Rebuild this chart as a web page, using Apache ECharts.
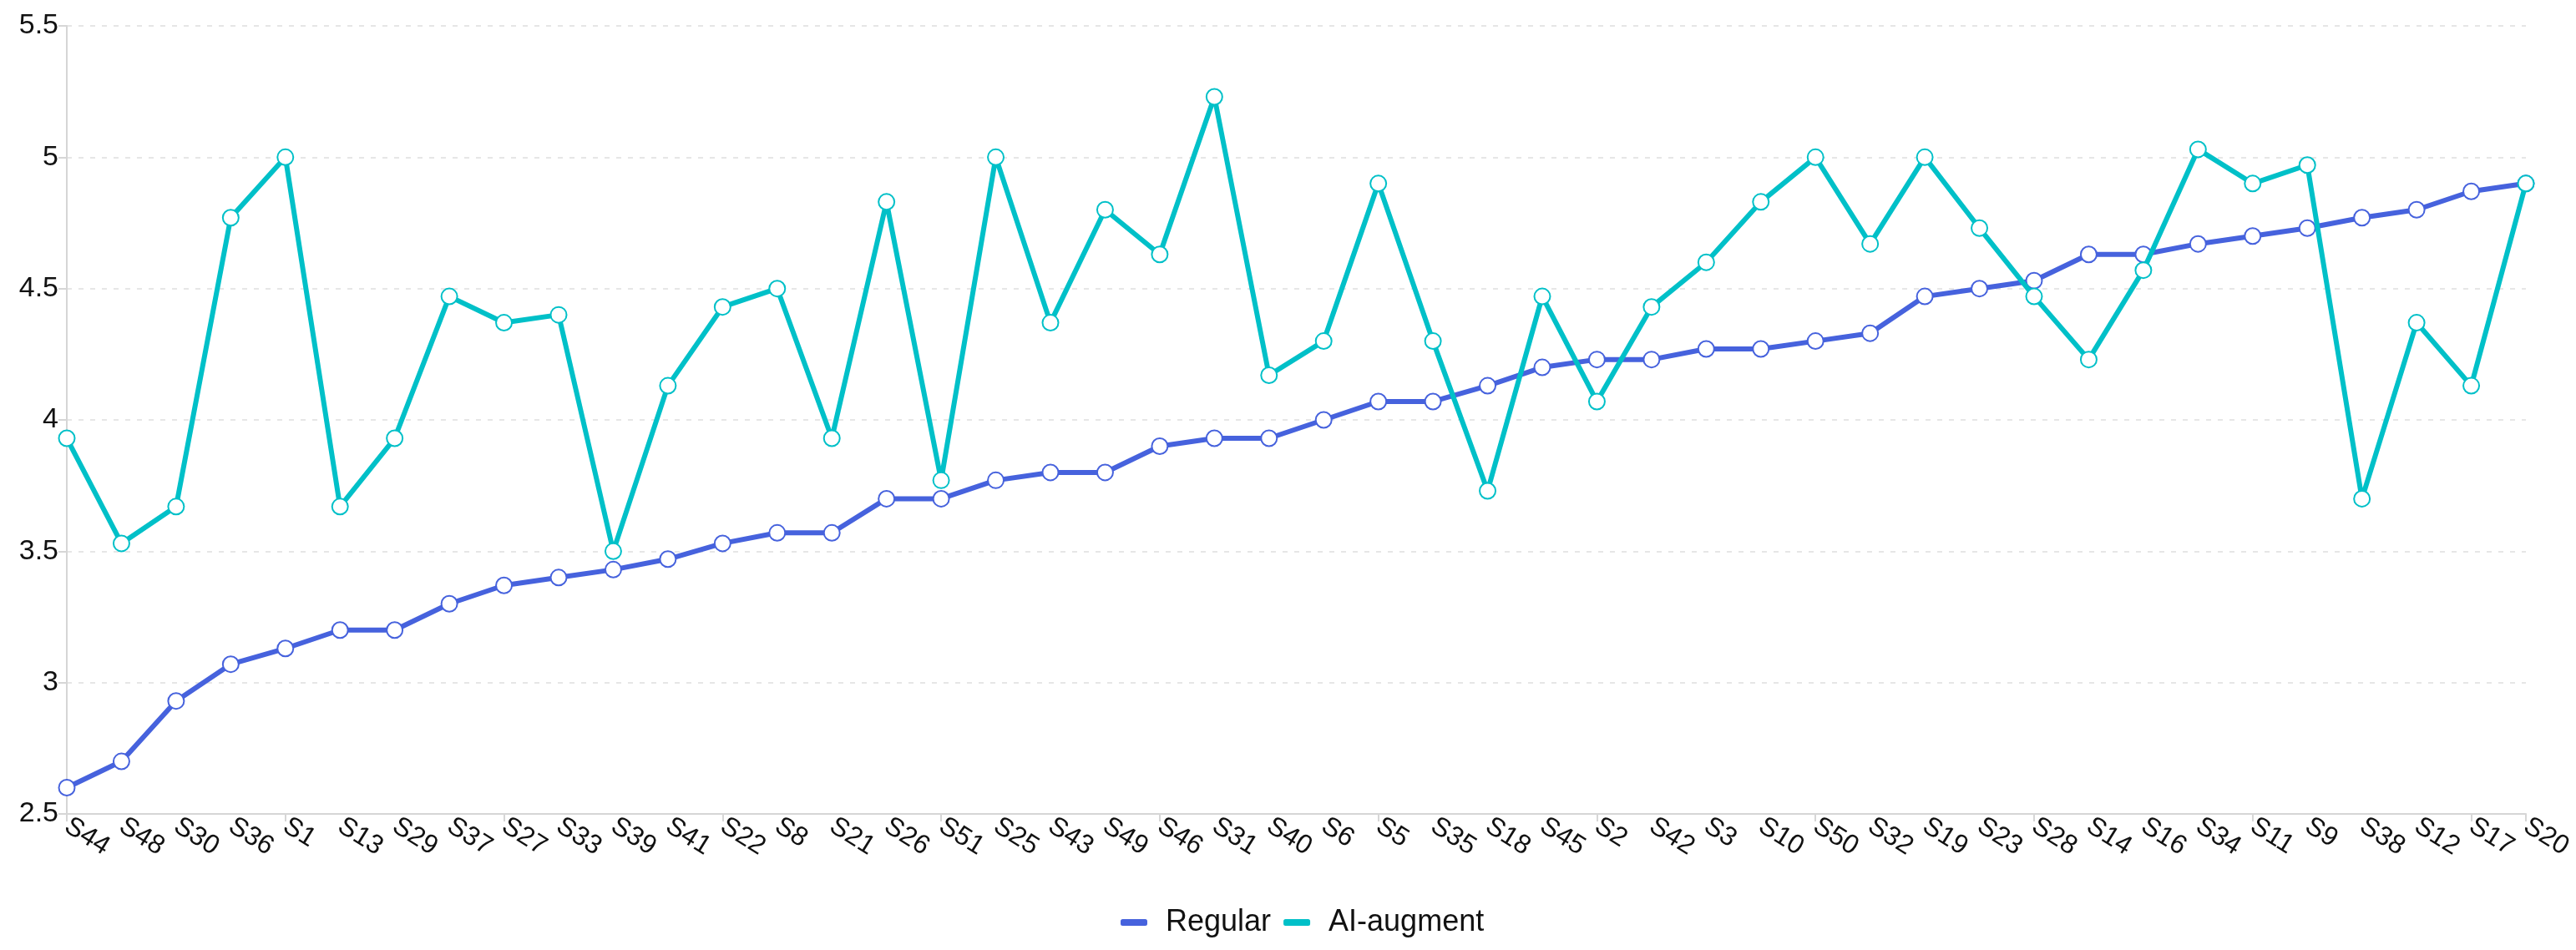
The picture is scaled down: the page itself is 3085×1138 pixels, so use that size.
<!DOCTYPE html>
<html>
<head>
<meta charset="utf-8">
<script src="https://cdn.jsdelivr.net/npm/echarts@6/dist/echarts.min.js"></script>
<style>html,body{margin:0;padding:0;background:#fff}#c{width:3085px;height:1138px}</style>
</head>
<body>
<div id="c"></div>
<script>
const categories = ['S44','S48','S30','S36','S1','S13','S29','S37','S27','S33','S39','S41','S22','S8','S21','S26','S51','S25','S43','S49','S46','S31','S40','S6','S5','S35','S18','S45','S2','S42','S3','S10','S50','S32','S19','S23','S28','S14','S16','S34','S11','S9','S38','S12','S17','S20'];
const regular = [2.6,2.7,2.93,3.07,3.13,3.2,3.2,3.3,3.37,3.4,3.43,3.47,3.53,3.57,3.57,3.7,3.7,3.77,3.8,3.8,3.9,3.93,3.93,4.0,4.07,4.07,4.13,4.2,4.23,4.23,4.27,4.27,4.3,4.33,4.47,4.5,4.53,4.63,4.63,4.67,4.7,4.73,4.77,4.8,4.87,4.9];
const aiAugment = [3.93,3.53,3.67,4.77,5.0,3.67,3.93,4.47,4.37,4.4,3.5,4.13,4.43,4.5,3.93,4.83,3.77,5.0,4.37,4.8,4.63,5.23,4.17,4.3,4.9,4.3,3.73,4.47,4.07,4.43,4.6,4.83,5.0,4.67,5.0,4.73,4.47,4.23,4.57,5.03,4.9,4.97,3.7,4.37,4.13,4.9];
const seriesNames = ['Regular','AI-augment'];
const colors = ['#4662dd','#00c0c8'];

const chart = echarts.init(document.getElementById('c'));
const mk = (name, data, color) => ({
  name, type: 'line', data,
  symbol: 'emptyCircle', symbolSize: 19,
  lineStyle: { width: 6, color },
  itemStyle: { color, borderWidth: 4, borderColor: color },
  z: name === 'Regular' ? 2 : 3
});
chart.setOption({
  animation: false,
  color: colors,
  grid: { left: 80, right: 60, top: 31, bottom: 163 },
  legend: {
    data: seriesNames.map(n => ({ name: n, icon: 'roundRect' })),
    left: 1337, top: 1082,
    itemWidth: 30, itemHeight: 6, itemGap: 15,
    textStyle: { fontSize: 36, color: '#111', fontFamily: 'Liberation Sans, Arial', padding: [0, 0, 0, 18] }
  },
  xAxis: {
    type: 'category', data: categories, boundaryGap: false,
    axisLine: { lineStyle: { color: '#d6d6d6', width: 2 } },
    axisTick: { interval: 3, length: 9, lineStyle: { color: '#d6d6d6', width: 2 } },
    axisLabel: { interval: 0, rotate: -32, fontSize: 32, color: '#111', margin: 12, fontFamily: 'Liberation Sans, Arial' },
    splitLine: { show: false }
  },
  yAxis: {
    type: 'value', min: 2.5, max: 5.5, interval: 0.5,
    axisLine: { show: true, lineStyle: { color: '#d6d6d6', width: 2 } },
    axisTick: { show: true, length: 10, lineStyle: { color: '#d6d6d6', width: 2 } },
    axisLabel: { fontSize: 34, color: '#111', margin: 10, fontFamily: 'Liberation Sans, Arial' },
    splitLine: { lineStyle: { color: '#e6e6e6', type: [6, 8], width: 2 } }
  },
  series: [ mk(seriesNames[0], regular, colors[0]), mk(seriesNames[1], aiAugment, colors[1]) ]
});
</script>
</body>
</html>
